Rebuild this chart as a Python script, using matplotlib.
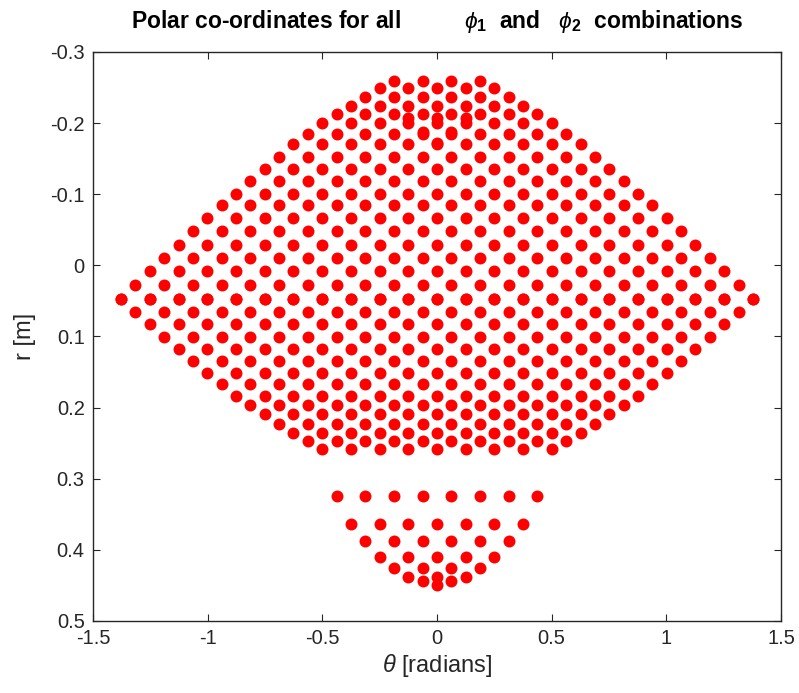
import numpy as np
import matplotlib.pyplot as plt
from matplotlib.ticker import FuncFormatter

plt.rcParams['font.family'] = ['Liberation Sans', 'DejaVu Sans']
plt.rcParams['mathtext.fontset'] = 'custom'
plt.rcParams['mathtext.rm'] = 'Liberation Sans'
plt.rcParams['mathtext.it'] = 'Liberation Sans:italic'
plt.rcParams['mathtext.bf'] = 'Liberation Sans:bold'
plt.rcParams['axes.unicode_minus'] = False

# theta [rad] of the dots in each row; row 0 is the widest one,
# both branches (r going up and r going down) share these rows
row_theta = [
    [-1.377, -1.252, -1.127, -1.002, -0.876, -0.751, -0.626, -0.501, -0.376, -0.250, -0.125, 0.0,
     0.125, 0.250, 0.376, 0.501, 0.626, 0.751, 0.876, 1.002, 1.127, 1.252, 1.377],
    [-1.315, -1.189, -1.064, -0.939, -0.814, -0.689, -0.563, -0.438, -0.313, -0.188, -0.063,
     0.063, 0.188, 0.313, 0.438, 0.563, 0.689, 0.814, 0.939, 1.064, 1.189, 1.315],
    [-1.252, -1.127, -1.002, -0.876, -0.751, -0.626, -0.501, -0.376, -0.250, -0.125, 0.0,
     0.125, 0.250, 0.376, 0.501, 0.626, 0.751, 0.876, 1.002, 1.127, 1.252],
    [-1.189, -1.064, -0.939, -0.814, -0.689, -0.563, -0.438, -0.313, -0.188, -0.063,
     0.063, 0.188, 0.313, 0.438, 0.563, 0.689, 0.814, 0.939, 1.064, 1.189],
    [-1.127, -1.002, -0.876, -0.751, -0.626, -0.501, -0.376, -0.250, -0.125, 0.0,
     0.125, 0.250, 0.376, 0.501, 0.626, 0.751, 0.876, 1.002, 1.127],
    [-1.064, -0.939, -0.814, -0.689, -0.563, -0.438, -0.313, -0.188, -0.063,
     0.063, 0.188, 0.313, 0.438, 0.563, 0.689, 0.814, 0.939, 1.064],
    [-1.002, -0.876, -0.751, -0.626, -0.501, -0.376, -0.250, -0.125, 0.0,
     0.125, 0.250, 0.376, 0.501, 0.626, 0.751, 0.876, 1.002],
    [-0.939, -0.814, -0.689, -0.563, -0.438, -0.313, -0.188, -0.063,
     0.063, 0.188, 0.313, 0.438, 0.563, 0.689, 0.814, 0.939],
    [-0.876, -0.751, -0.626, -0.501, -0.376, -0.250, -0.125, 0.0,
     0.125, 0.250, 0.376, 0.501, 0.626, 0.751, 0.876],
    [-0.814, -0.689, -0.563, -0.438, -0.313, -0.188, -0.063,
     0.063, 0.188, 0.313, 0.438, 0.563, 0.689, 0.814],
    [-0.751, -0.626, -0.501, -0.376, -0.250, -0.125, 0.0,
     0.125, 0.250, 0.376, 0.501, 0.626, 0.751],
    [-0.689, -0.563, -0.438, -0.313, -0.188, -0.063,
     0.063, 0.188, 0.313, 0.438, 0.563, 0.689],
    [-0.626, -0.501, -0.376, -0.250, -0.125, 0.0, 0.125, 0.250, 0.376, 0.501, 0.626],
    [-0.563, -0.438, -0.313, -0.188, -0.063, 0.063, 0.188, 0.313, 0.438, 0.563],
    [-0.501, -0.376, -0.250, -0.125, 0.0, 0.125, 0.250, 0.376, 0.501],
    [-0.438, -0.313, -0.188, -0.063, 0.063, 0.188, 0.313, 0.438],
    [-0.376, -0.250, -0.125, 0.0, 0.125, 0.250, 0.376],
    [-0.313, -0.188, -0.063, 0.063, 0.188, 0.313],
    [-0.250, -0.125, 0.0, 0.125, 0.250],
    [-0.188, -0.063, 0.063, 0.188],
    [-0.125, 0.0, 0.125],
    [-0.063, 0.063],
    [0.0],
]

# r [m] of each row for the two branches
upper_r = [0.047, 0.027, 0.008, -0.010, -0.029, -0.048, -0.067, -0.085, -0.101, -0.119,
           -0.135, -0.153, -0.170, -0.184, -0.200, -0.213, -0.224, -0.237, -0.249, -0.259,
           -0.207, -0.187, -0.172]
lower_r = [0.047, 0.065, 0.083, 0.101, 0.117, 0.134, 0.151, 0.167, 0.183, 0.196,
           0.209, 0.223, 0.235, 0.247, 0.258, 0.324, 0.363, 0.388, 0.410, 0.426,
           0.438, 0.444, 0.449]

fig = plt.figure(figsize=(7.99, 6.93), dpi=100)
ax = fig.add_axes([0.1164, 0.1039, 0.8611, 0.8211])

for r_list in (upper_r, lower_r):
    for r, th in zip(r_list, row_theta):
        ax.plot(th, np.full(len(th), r), 'o', color='#ff0000', markersize=8.6,
                markeredgewidth=0, linestyle='none')

ax.set_xlim(-1.5, 1.5)
ax.set_ylim(0.5, -0.3)
ax.set_xticks([-1.5, -1, -0.5, 0, 0.5, 1, 1.5])
ax.set_yticks([-0.3, -0.2, -0.1, 0, 0.1, 0.2, 0.3, 0.4, 0.5])
fmt = FuncFormatter(lambda v, p: '%g' % round(v, 3))
ax.xaxis.set_major_formatter(fmt)
ax.yaxis.set_major_formatter(fmt)

axcol = '#262626'
for s in ax.spines.values():
    s.set_color(axcol)
    s.set_linewidth(1.0)
ax.tick_params(direction='in', top=True, right=True, length=5, width=0.8,
               color=axcol, labelcolor=axcol, labelsize=14.5, pad=6)

ax.set_title(r"Polar co-ordinates for all          $\phi_\mathbf{1}$  and   $\phi_\mathbf{2}$  combinations",
             fontsize=16.5, fontweight='bold', pad=17)
ax.set_xlabel(r"$\theta$ [radians]", fontsize=17, color=axcol, labelpad=3)
ax.set_ylabel("r [m]", fontsize=17, color=axcol, labelpad=10)

fig.savefig('out.png', dpi=100)
